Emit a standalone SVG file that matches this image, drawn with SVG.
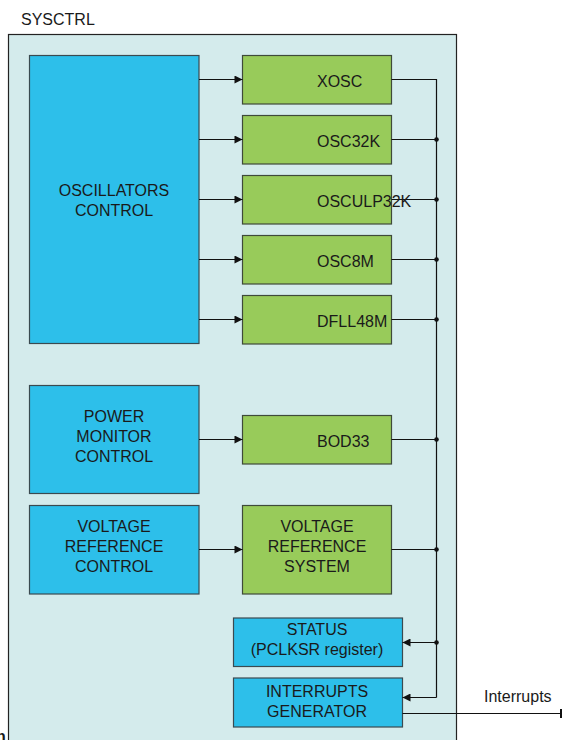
<svg xmlns="http://www.w3.org/2000/svg" width="562" height="740" viewBox="0 0 562 740">
<defs>
<style>
text{font-family:"Liberation Sans",Arial,sans-serif;font-size:16px;fill:#1a1a1a}
.c{text-anchor:middle}
.blue{fill:#2dbfea;stroke:#3a4a50;stroke-width:1.2}
.green{fill:#98cb5a;stroke:#3f4a3a;stroke-width:1.2}
.ln{fill:none;stroke:#111;stroke-width:1.2}
.dot{fill:#111}
</style>
<marker id="ah" viewBox="0 0 10 10" refX="10" refY="5" markerWidth="9" markerHeight="8" markerUnits="userSpaceOnUse" orient="auto">
<path d="M0,0 L10,5 L0,10 z" fill="#111"/>
</marker>
</defs>
<rect width="562" height="740" fill="#fff"/>
<text x="21" y="25">SYSCTRL</text>
<g id="sysctrl"><rect x="8.5" y="34.5" width="448" height="720" fill="#d4ebec" stroke="#222" stroke-width="1.2"/></g>

<g id="osc-control"><rect class="blue" x="29.5" y="55.5" width="169.5" height="288"/>
<text class="c" x="114" y="196">OSCILLATORS</text><text class="c" x="114" y="216">CONTROL</text></g>
<g id="power-monitor"><rect class="blue" x="29.5" y="385.5" width="169.5" height="108"/>
<text class="c" x="114" y="422">POWER</text><text class="c" x="114" y="442">MONITOR</text><text class="c" x="114" y="462">CONTROL</text></g>
<g id="vref-control"><rect class="blue" x="29.5" y="505.5" width="169.5" height="88.5"/>
<text class="c" x="114" y="532">VOLTAGE</text><text class="c" x="114" y="552">REFERENCE</text><text class="c" x="114" y="572">CONTROL</text></g>

<g id="xosc"><rect class="green" x="242.5" y="55.5" width="149" height="48.5"/><text x="317" y="87">XOSC</text></g>
<g id="osc32k"><rect class="green" x="242.5" y="115.5" width="149" height="48.5"/><text x="317" y="147">OSC32K</text></g>
<g id="osculp32k"><rect class="green" x="242.5" y="175.5" width="149" height="48.5"/></g>
<g id="osc8m"><rect class="green" x="242.5" y="235.5" width="149" height="48.5"/><text x="317" y="267">OSC8M</text></g>
<g id="dfll48m"><rect class="green" x="242.5" y="295.5" width="149" height="48.5"/><text x="317" y="327">DFLL48M</text></g>
<g id="bod33"><rect class="green" x="242.5" y="415.5" width="149" height="48.5"/><text x="317" y="447">BOD33</text></g>
<g id="vref-system"><rect class="green" x="242.5" y="505.5" width="149" height="88.5"/>
<text class="c" x="317" y="532">VOLTAGE</text><text class="c" x="317" y="552">REFERENCE</text><text class="c" x="317" y="572">SYSTEM</text></g>
<g id="status"><rect class="blue" x="233.5" y="618" width="169" height="48.5"/>
<text class="c" x="317" y="635">STATUS</text><text class="c" x="317" y="655">(PCLKSR register)</text></g>
<g id="interrupts-gen"><rect class="blue" x="233.5" y="678" width="169" height="49"/>
<text class="c" x="317" y="697">INTERRUPTS</text><text class="c" x="317" y="717">GENERATOR</text></g>

<g id="connectors">
<path class="ln" marker-end="url(#ah)" d="M199,79.5H242.5"/>
<path class="ln" marker-end="url(#ah)" d="M199,139.5H242.5"/>
<path class="ln" marker-end="url(#ah)" d="M199,199.5H242.5"/>
<path class="ln" marker-end="url(#ah)" d="M199,259.5H242.5"/>
<path class="ln" marker-end="url(#ah)" d="M199,319.5H242.5"/>
<path class="ln" marker-end="url(#ah)" d="M199,439.5H242.5"/>
<path class="ln" marker-end="url(#ah)" d="M199,549.5H242.5"/>
<path class="ln" d="M391.5,79.5H436.5V697.5"/>
<path class="ln" d="M391.5,139.5H436.5M391.5,199.5H436.5M391.5,259.5H436.5M391.5,319.5H436.5M391.5,439.5H436.5M391.5,549.5H436.5"/>
<path class="ln" marker-end="url(#ah)" d="M436.5,642.5H402.5"/>
<path class="ln" marker-end="url(#ah)" d="M436.5,697.5H402.5"/>
<path class="ln" d="M402.5,713.5H561"/>
<path d="M561,709V718" stroke="#111" stroke-width="2"/>
<circle class="dot" cx="436.5" cy="139.5" r="2.3"/>
<circle class="dot" cx="436.5" cy="199.5" r="2.3"/>
<circle class="dot" cx="436.5" cy="259.5" r="2.3"/>
<circle class="dot" cx="436.5" cy="319.5" r="2.3"/>
<circle class="dot" cx="436.5" cy="439.5" r="2.3"/>
<circle class="dot" cx="436.5" cy="549.5" r="2.3"/>
<circle class="dot" cx="436.5" cy="642.5" r="2.3"/>
</g>
<text x="317" y="207">OSCULP32K</text>
<text x="484" y="702">Interrupts</text>
<text x="-4" y="742" style="font-weight:bold">n</text>
</svg>
